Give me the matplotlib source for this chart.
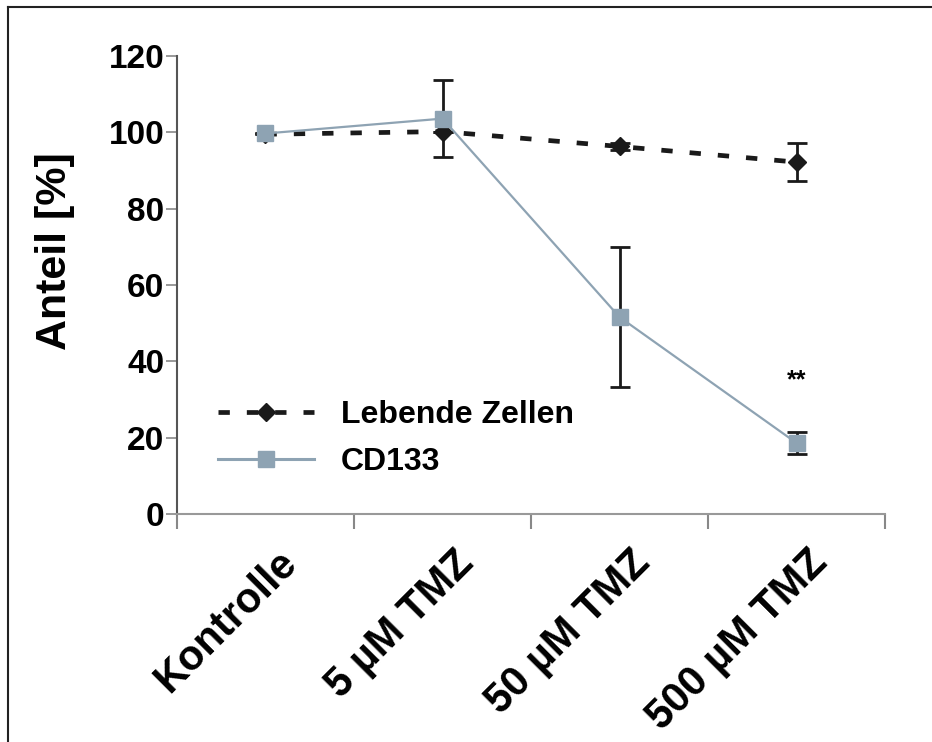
import matplotlib
matplotlib.use("Agg")
import matplotlib.pyplot as plt
from matplotlib.lines import Line2D

categories = ["Kontrolle", "5 µM TMZ", "50 µM TMZ", "500 µM TMZ"]
lebende = [99.5, 100.2, 96.3, 92.2]
lebende_err = [0.0, 0.0, 0.8, 5.0]
cd133 = [99.7, 103.6, 51.6, 18.6]
cd133_err = [0.0, 10.0, 18.3, 3.0]
yticks = [0, 20, 40, 60, 80, 100, 120]

plt.rcParams['font.family'] = ['Liberation Sans', 'DejaVu Sans']
fig = plt.figure(figsize=(9.32, 7.42), dpi=100)
ax = fig.add_axes([0.1899, 0.3073, 0.7597, 0.6172])

x = list(range(len(categories)))
cd_col = '#8ea3b3'
dash = (0, (2.4, 3.6))
ax.errorbar(x, lebende, yerr=lebende_err, color='#1a1a1a', ls=dash, lw=3.4,
            marker='D', ms=9, mfc='#1a1a1a', mec='#1a1a1a', ecolor='#1a1a1a',
            elinewidth=2, capsize=7, capthick=2, zorder=3)
ax.errorbar(x, cd133, yerr=cd133_err, color=cd_col, ls='-', lw=1.6,
            marker='s', ms=12, mfc=cd_col, mec=cd_col, ecolor='#1a1a1a',
            elinewidth=2, capsize=7, capthick=2, zorder=4)

ax.text(3, 35, "**", ha='center', va='center', fontsize=18, fontweight='bold')

ax.set_xlim(-0.5, 3.5)
ax.set_ylim(0, 120)
ax.set_yticks(yticks)
ax.set_xticks([-0.5, 0.5, 1.5, 2.5, 3.5])
ax.set_xticklabels([])
ax.tick_params(axis='x', direction='out', length=11, width=1.5, color='#888888')
ax.tick_params(axis='y', direction='out', length=8, width=1.2, color='#888888',
               labelsize=24, pad=1)
for lab in ax.get_yticklabels():
    lab.set_fontweight('bold')
for i, c in enumerate(categories):
    ax.text(i + 0.06, -7.5, c, rotation=45, ha='right', va='top', fontsize=30,
            fontweight='bold', rotation_mode='anchor')
ax.set_ylabel("Anteil [%]", fontsize=31, fontweight='bold')
ax.yaxis.label.set_verticalalignment('center')
ax.yaxis.set_label_coords(-0.172, 0.574)
for s in ['top', 'right']:
    ax.spines[s].set_visible(False)
ax.spines['left'].set_color('#555555')
ax.spines['left'].set_linewidth(1.5)
ax.spines['bottom'].set_color('#999999')
ax.spines['bottom'].set_linewidth(1.5)

handles = [Line2D([], [], color='#1a1a1a', ls=dash, lw=3.4, marker='D', ms=9),
           Line2D([], [], color=cd_col, ls='-', lw=2.2, marker='s', ms=12)]
ax.legend(handles, ["Lebende Zellen", "CD133"], loc='upper left',
          bbox_to_anchor=(0.058, 0.248), frameon=False, handlelength=3.0,
          borderpad=0, borderaxespad=0,
          prop={'size': 23, 'weight': 'bold'}, labelspacing=0.52, handletextpad=0.85)

fig.add_artist(Line2D([0.009, 1.0], [0.990, 0.990], transform=fig.transFigure, color='#222222', lw=1.5))
fig.add_artist(Line2D([0.009, 0.009], [0.0, 0.990], transform=fig.transFigure, color='#222222', lw=1.5))

fig.savefig("out.png", dpi=100)
